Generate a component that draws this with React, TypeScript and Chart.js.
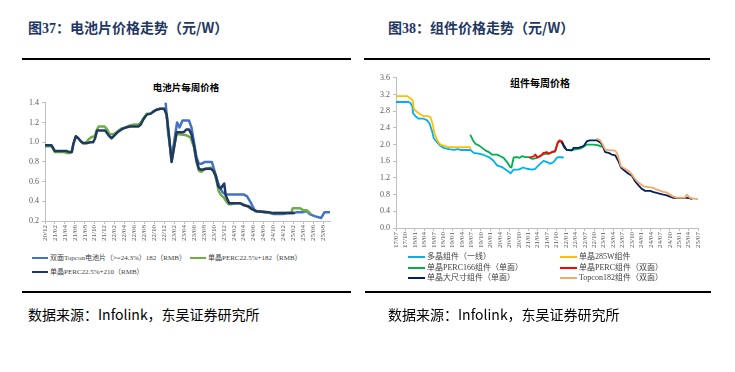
import React, { useEffect, useRef } from 'react';
import { Chart, registerables } from 'chart.js';

Chart.register(...registerables);

// ---------- Left chart: cell prices (x = months since 2020-12) ----------
const cellTickLabels = [
  '20/12', '21/02', '21/04', '21/06', '21/08', '21/10', '21/12', '22/02', '22/04', '22/06',
  '22/08', '22/10', '22/12', '23/02', '23/04', '23/06', '23/08', '23/10', '23/12', '24/02',
  '24/04', '24/06', '24/08', '24/10', '24/12', '25/02', '25/04', '25/06', '25/08',
];

const cellTopcon: [number, number][] = [
  [24.3, 1.40], [24.8, 1.10], [25.5, 0.83], [26.0, 1.00], [26.6, 1.20], [27.1, 1.15], [27.7, 1.22],
  [29.0, 1.22], [29.5, 1.15], [30.0, 1.00], [30.5, 0.85], [31.0, 0.78], [31.5, 0.78], [32.2, 0.80],
  [33.6, 0.80], [34.2, 0.70], [34.9, 0.58], [35.4, 0.52], [35.8, 0.49], [36.4, 0.47], [40.0, 0.47],
  [40.7, 0.45], [41.3, 0.40], [41.8, 0.35], [42.3, 0.30], [44.6, 0.29], [46.0, 0.27], [48.0, 0.27],
  [48.7, 0.28], [50.1, 0.28], [50.7, 0.29], [52.0, 0.29], [52.7, 0.30], [53.3, 0.27], [54.3, 0.25],
  [55.6, 0.23], [56.3, 0.29], [57.3, 0.29],
];

const cellPerc182: [number, number][] = [
  [0, 0.96], [1.3, 0.96], [2.0, 0.90], [4.0, 0.90], [4.4, 0.89], [5.0, 0.89], [5.4, 0.90], [5.7, 0.98],
  [6.2, 1.06], [6.7, 1.04], [7.2, 1.01], [7.7, 0.99], [8.3, 1.00], [8.8, 1.03], [9.3, 1.05], [10.0, 1.06],
  [10.4, 1.12], [10.8, 1.16], [12.0, 1.16], [12.5, 1.13], [13.0, 1.08], [13.8, 1.08], [14.4, 1.10],
  [15.4, 1.14], [16.3, 1.15], [17.1, 1.17], [18.0, 1.18], [18.8, 1.18], [19.3, 1.20], [19.8, 1.24],
  [20.5, 1.29], [21.3, 1.29], [21.8, 1.31], [22.5, 1.33], [23.2, 1.34], [24.0, 1.34], [24.5, 1.28],
  [25.0, 1.05], [25.5, 0.80], [26.0, 0.95], [26.5, 1.08], [27.0, 1.08], [28.5, 1.07], [29.3, 1.05],
  [30.0, 0.95], [30.5, 0.80], [31.0, 0.71], [31.5, 0.70], [32.2, 0.73], [33.5, 0.74], [34.0, 0.70],
  [34.5, 0.62], [35.0, 0.50], [35.5, 0.46], [36.0, 0.44], [36.5, 0.40], [37.0, 0.37], [37.5, 0.37],
  [38.3, 0.38], [39.3, 0.38], [40.0, 0.37], [41.0, 0.34], [41.7, 0.32], [42.6, 0.30], [44.0, 0.29],
  [46.0, 0.28], [49.6, 0.28], [49.9, 0.33], [51.3, 0.33], [52.0, 0.31], [52.7, 0.31], [53.4, 0.28],
];

const cellPerc210: [number, number][] = [
  [0, 0.97], [1.3, 0.97], [2.0, 0.91], [4.4, 0.91], [4.9, 0.90], [5.4, 0.90], [5.7, 0.98], [6.2, 1.06],
  [6.7, 1.04], [7.2, 1.01], [7.7, 0.99], [8.5, 0.99], [9.1, 1.00], [9.7, 1.00], [10.1, 1.04], [10.5, 1.12],
  [12.1, 1.12], [12.8, 1.07], [13.4, 1.04], [14.0, 1.07], [14.6, 1.10], [15.4, 1.13], [16.3, 1.15],
  [17.1, 1.16], [18.8, 1.16], [19.3, 1.18], [19.8, 1.23], [20.5, 1.28], [21.3, 1.29], [21.8, 1.31],
  [22.5, 1.33], [23.2, 1.34], [24.0, 1.34], [24.5, 1.28], [25.0, 1.05], [25.5, 0.80], [26.0, 0.95],
  [26.5, 1.10], [27.0, 1.10], [27.9, 1.10], [28.5, 1.13], [29.0, 1.13], [29.5, 1.08], [30.0, 0.97],
  [30.5, 0.82], [31.0, 0.73], [31.5, 0.72], [32.6, 0.73], [33.4, 0.73], [33.9, 0.71], [34.4, 0.66],
  [34.9, 0.55], [35.4, 0.53], [35.8, 0.56], [36.1, 0.58], [36.4, 0.46], [37.1, 0.38], [38.3, 0.38],
  [39.3, 0.38], [40.0, 0.36], [41.0, 0.35], [41.7, 0.32], [42.6, 0.30], [44.0, 0.295], [45.0, 0.29],
  [46.0, 0.28], [50.1, 0.28],
];

// ---------- Right chart: module prices (x = months since 2017-07) ----------
const moduleTickLabels = [
  '17/07', '17/10', '18/01', '18/04', '18/07', '18/10', '19/01', '19/04', '19/07', '19/10',
  '20/01', '20/04', '20/07', '20/10', '21/01', '21/04', '21/07', '21/10', '22/01', '22/04',
  '22/07', '22/10', '23/01', '23/04', '23/07', '23/10', '24/01', '24/04', '24/07', '24/10',
  '25/01', '25/04', '25/07',
];

const modMulti: [number, number][] = [
  [0, 3.02], [4.0, 3.02], [4.5, 3.00], [5.2, 2.92], [5.4, 2.75], [6.2, 2.68], [7.2, 2.62], [8.8, 2.62],
  [9.9, 2.58], [10.7, 2.50], [11.5, 2.31], [12.0, 2.15], [13.1, 2.05], [14.1, 1.97], [15.2, 1.92],
  [16.8, 1.89], [18.4, 1.87], [19.6, 1.89], [20.5, 1.87], [23.7, 1.87], [24.7, 1.80], [26.3, 1.78],
  [27.9, 1.75], [29.5, 1.70], [31.0, 1.61], [32.1, 1.50], [33.7, 1.46], [34.8, 1.40], [35.8, 1.35],
  [36.4, 1.31], [37.4, 1.40], [39.0, 1.40], [40.4, 1.45], [41.6, 1.42], [43.2, 1.40], [44.3, 1.42],
  [45.3, 1.50], [46.9, 1.61], [48.0, 1.58], [49.0, 1.54], [50.1, 1.58], [51.2, 1.69], [52.2, 1.70],
  [53.1, 1.69],
];

const mod285W: [number, number][] = [
  [0, 3.16], [3.6, 3.16], [4.8, 3.10], [5.3, 3.05], [5.7, 2.85], [6.7, 2.78], [7.8, 2.72], [8.8, 2.68],
  [10.4, 2.68], [11.0, 2.65], [11.8, 2.45], [12.2, 2.27], [13.1, 2.10], [14.1, 2.00], [15.7, 1.96],
  [16.8, 1.94], [23.5, 1.94], [23.7, 1.90],
];

const modPerc166: [number, number][] = [
  [23.7, 2.22], [24.5, 2.10], [25.2, 2.02], [26.3, 1.98], [27.4, 1.92], [28.4, 1.86], [29.5, 1.82],
  [30.5, 1.76], [32.1, 1.76], [33.2, 1.72], [34.2, 1.68], [35.3, 1.58], [36.3, 1.46], [36.7, 1.45],
  [37.4, 1.69], [38.5, 1.70], [39.3, 1.68], [40.0, 1.72], [41.1, 1.70], [42.2, 1.70], [43.2, 1.66],
  [43.8, 1.66], [44.8, 1.68], [45.7, 1.72], [46.4, 1.75], [47.5, 1.78], [48.5, 1.78], [49.6, 1.82],
  [50.6, 1.83], [51.5, 2.05], [52.2, 2.08], [52.7, 2.05], [53.5, 1.92], [54.3, 1.87], [55.5, 1.87],
  [56.5, 1.88], [58.5, 1.90], [59.6, 1.95], [60.7, 2.00], [62.8, 2.00], [64.4, 1.98], [65.2, 1.95],
];

const modPercBifacial: [number, number][] = [
  [42.5, 1.69], [43.8, 1.72], [44.3, 1.76], [44.8, 1.70], [45.9, 1.72], [46.9, 1.80], [48.0, 1.82],
  [48.5, 1.78], [49.6, 1.82], [50.6, 1.85], [51.4, 2.05], [52.0, 2.10], [52.8, 2.07], [53.5, 1.95],
  [53.8, 1.92],
];

const modLarge: [number, number][] = [
  [52.8, 2.05], [53.5, 1.95], [54.3, 1.87], [55.4, 1.86], [56.0, 1.86], [56.4, 1.92], [58.0, 1.92],
  [59.6, 1.96], [60.7, 2.08], [61.7, 2.10], [63.9, 2.10], [64.9, 2.05], [65.5, 2.00], [66.5, 1.82],
  [67.6, 1.80], [68.6, 1.76], [69.7, 1.74], [70.7, 1.60], [71.5, 1.45], [72.9, 1.36], [73.9, 1.30],
  [75.0, 1.25], [76.0, 1.12], [77.1, 1.02], [78.1, 0.94], [79.2, 0.89], [80.8, 0.89], [81.9, 0.86],
  [82.9, 0.84], [84.0, 0.82], [85.0, 0.80], [86.1, 0.78], [87.1, 0.75], [88.2, 0.72], [92.4, 0.72],
  [93.5, 0.71], [94.0, 0.70],
];

const modTopcon: [number, number][] = [
  [63.9, 2.14], [64.9, 2.10], [65.7, 2.00], [66.5, 1.88], [68.1, 1.86], [69.5, 1.86], [70.2, 1.80],
  [71.0, 1.62], [71.5, 1.48], [72.1, 1.45], [73.2, 1.40], [74.2, 1.35], [75.0, 1.28], [75.7, 1.20],
  [76.6, 1.12], [77.6, 1.06], [78.7, 1.00], [80.3, 0.98], [81.9, 0.96], [82.9, 0.92], [84.5, 0.88],
  [86.1, 0.85], [87.1, 0.80], [88.2, 0.75], [89.3, 0.73], [91.9, 0.73], [92.4, 0.80], [93.0, 0.76],
  [93.5, 0.72], [95.1, 0.70], [96.0, 0.69],
];

const cellSeries = [
  { label: '双面Topcon电池片（>=24.3%）182（RMB）', data: cellTopcon, color: '#4472C4', order: 2 },
  { label: '单晶PERC22.5%+182（RMB）', data: cellPerc182, color: '#70AD47', order: 1 },
  { label: '单晶PERC22.5%+210（RMB）', data: cellPerc210, color: '#1F3864', order: 0 },
];

const moduleSeries = [
  { label: '多晶组件（一线）', data: modMulti, color: '#00B0F0', order: 5 },
  { label: '单晶285W组件', data: mod285W, color: '#FFC000', order: 4 },
  { label: '单晶PERC166组件（单面）', data: modPerc166, color: '#00B050', order: 3 },
  { label: '单晶PERC组件（双面）', data: modPercBifacial, color: '#FF0000', order: 2 },
  { label: '单晶大尺寸组件（单面）', data: modLarge, color: '#002060', order: 1 },
  { label: 'Topcon182组件（双面）', data: modTopcon, color: '#F4A96A', order: 0 },
];

const SERIF = '"Liberation Serif", "Times New Roman", serif';
const CJK = '"Noto Sans CJK SC", sans-serif';

type Cfg = {
  series: { label: string; data: [number, number][]; color: string; order: number }[];
  ticks: string[];
  step: number;
  xMax: number;
  yMin: number;
  yMax: number;
  yStep: number;
  yWidth: number;
  xHeight: number;
  padTop: number;
  padRight: number;
  lineWidth: number;
};

function LineChart({ cfg, width, height }: { cfg: Cfg; width: number; height: number }) {
  const ref = useRef<HTMLCanvasElement | null>(null);
  useEffect(() => {
    if (!ref.current) return;
    const axisColor = '#BFBFBF';
    const chart = new Chart(ref.current, {
      type: 'line',
      data: {
        datasets: cfg.series.map((s) => ({
          label: s.label,
          data: s.data.map(([x, y]) => ({ x, y })),
          borderColor: s.color,
          backgroundColor: s.color,
          borderWidth: cfg.lineWidth,
          pointRadius: 0,
          tension: 0,
          fill: false,
          order: s.order,
          borderJoinStyle: 'round' as const,
          borderCapStyle: 'round' as const,
        })),
      },
      options: {
        animation: false,
        responsive: false,
        devicePixelRatio: 1,
        layout: { padding: { top: cfg.padTop, right: cfg.padRight, left: 0, bottom: 0 } },
        plugins: { legend: { display: false }, title: { display: false }, tooltip: { enabled: false } },
        scales: {
          x: {
            type: 'linear',
            min: 0,
            max: cfg.xMax,
            afterBuildTicks: (scale: any) => {
              scale.ticks = cfg.ticks.map((_, i) => ({ value: i * cfg.step }));
            },
            afterFit: (scale: any) => {
              scale.height = cfg.xHeight;
            },
            ticks: {
              autoSkip: false,
              minRotation: 90,
              maxRotation: 90,
              padding: 1,
              color: '#595959',
              font: { family: SERIF, size: 7 },
              callback: (_v: any, i: number) => cfg.ticks[i],
            },
            grid: { drawOnChartArea: false, drawTicks: true, tickLength: 3, color: axisColor },
            border: { display: true, color: axisColor, width: 1 },
          },
          y: {
            type: 'linear',
            min: cfg.yMin,
            max: cfg.yMax,
            afterFit: (scale: any) => {
              scale.width = cfg.yWidth;
            },
            ticks: {
              stepSize: cfg.yStep,
              padding: 3,
              color: '#595959',
              font: { family: SERIF, size: 8 },
              callback: (v: any) => Number(v).toFixed(1),
            },
            grid: { drawOnChartArea: false, drawTicks: true, tickLength: 3, color: axisColor },
            border: { display: true, color: axisColor, width: 1 },
          },
        },
      } as any,
    });
    return () => chart.destroy();
  }, [cfg]);
  return <canvas ref={ref} width={width} height={height} style={{ width, height, display: 'block' }} />;
}

const cellCfg: Cfg = {
  series: cellSeries,
  ticks: cellTickLabels,
  step: 2,
  xMax: 57.4,
  yMin: 0.2,
  yMax: 1.4,
  yStep: 0.2,
  yWidth: 23,
  xHeight: 29,
  padTop: 7,
  padRight: 22,
  lineWidth: 2.5,
};

const moduleCfg: Cfg = {
  series: moduleSeries,
  ticks: moduleTickLabels,
  step: 3,
  xMax: 96,
  yMin: 0,
  yMax: 3.6,
  yStep: 0.4,
  yWidth: 31,
  xHeight: 27,
  padTop: 7,
  padRight: 12,
  lineWidth: 1.8,
};

const abs = (left: number, top: number, extra: React.CSSProperties = {}): React.CSSProperties => ({
  position: 'absolute',
  left,
  top,
  ...extra,
});

function LegendItem({ x, y, color, label, lineW, size, thick }: { x: number; y: number; color: string; label: string; lineW: number; size: number; thick: number }) {
  return (
    <div style={abs(x, y - 6, { height: 12, display: 'flex', alignItems: 'center', whiteSpace: 'nowrap' })}>
      <div style={{ width: lineW, height: thick, background: color, marginRight: 2 }} />
      <span style={{ fontFamily: SERIF.replace('serif', '"Noto Sans CJK SC", serif'), fontSize: size, color: '#404040', lineHeight: '12px' }}>{label}</span>
    </div>
  );
}

export default function App() {
  const heading: React.CSSProperties = {
    fontFamily: CJK,
    fontWeight: 700,
    fontSize: 14,
    color: '#1F3864',
    lineHeight: '20px',
    whiteSpace: 'nowrap',
  };
  const source: React.CSSProperties = {
    fontFamily: CJK,
    fontSize: 14,
    color: '#000',
    lineHeight: '20px',
    whiteSpace: 'nowrap',
  };
  const chartTitle: React.CSSProperties = {
    fontFamily: CJK,
    fontWeight: 700,
    fontSize: 9.5,
    color: '#000',
    lineHeight: '12px',
    whiteSpace: 'nowrap',
    transform: 'translateX(-50%)',
  };
  const rule = (left: number, top: number, width: number): React.CSSProperties =>
    abs(left, top, { width, height: 2, background: '#000' });

  return (
    <div style={{ position: 'absolute', left: 0, top: 0, width: 735, height: 372, background: '#fff', overflow: 'hidden' }}>
      {/* headings */}
      <div style={abs(28, 17, heading)}>
        图<span style={{ fontFamily: SERIF }}>37</span>：电池片价格走势（元/W）
      </div>
      <div style={abs(388, 17, heading)}>
        图<span style={{ fontFamily: SERIF }}>38</span>：组件价格走势（元/W）
      </div>
      <div style={rule(22, 58, 329)} />
      <div style={rule(364, 58, 346)} />

      {/* left chart */}
      <div style={abs(186, 81, chartTitle)}>电池片每周价格</div>
      <div style={abs(22, 95)}>
        <LineChart cfg={cellCfg} width={330} height={155} />
      </div>
      <LegendItem x={32} y={258} color={cellSeries[0].color} label={cellSeries[0].label} lineW={16} size={7} thick={2.5} />
      <LegendItem x={190} y={258} color={cellSeries[1].color} label={cellSeries[1].label} lineW={16} size={7} thick={2.5} />
      <LegendItem x={32} y={272} color={cellSeries[2].color} label={cellSeries[2].label} lineW={16} size={7} thick={2.5} />

      {/* right chart */}
      <div style={abs(540, 77, { ...chartTitle, fontSize: 10 })}>组件每周价格</div>
      <div style={abs(365, 70)}>
        <LineChart cfg={moduleCfg} width={345} height={185} />
      </div>
      <LegendItem x={408} y={257} color={moduleSeries[0].color} label={moduleSeries[0].label} lineW={17} size={8} thick={2} />
      <LegendItem x={560} y={257} color={moduleSeries[1].color} label={moduleSeries[1].label} lineW={17} size={8} thick={2} />
      <LegendItem x={408} y={267.5} color={moduleSeries[2].color} label={moduleSeries[2].label} lineW={17} size={8} thick={2} />
      <LegendItem x={560} y={267.5} color={moduleSeries[3].color} label={moduleSeries[3].label} lineW={17} size={8} thick={2} />
      <LegendItem x={408} y={278} color={moduleSeries[4].color} label={moduleSeries[4].label} lineW={17} size={8} thick={2} />
      <LegendItem x={560} y={278} color={moduleSeries[5].color} label={moduleSeries[5].label} lineW={17} size={8} thick={2} />

      {/* bottom rules + sources */}
      <div style={rule(22, 291, 329)} />
      <div style={rule(365, 291, 346)} />
      <div style={abs(28, 304, source)}>数据来源：Infolink，东吴证券研究所</div>
      <div style={abs(388, 304, source)}>数据来源：Infolink，东吴证券研究所</div>
    </div>
  );
}
